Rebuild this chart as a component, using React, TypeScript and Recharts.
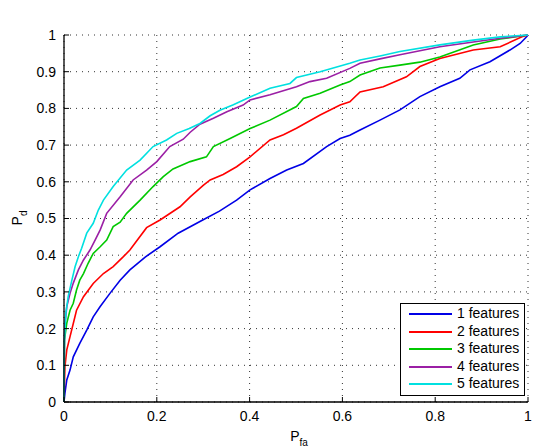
import { LineChart, Line, XAxis, YAxis, CartesianGrid, Legend, Label } from "recharts"

// ROC curves (Pfa -> Pd)
const pfa1 = [0, 0.002, 0.006, 0.013, 0.02, 0.034, 0.049, 0.063, 0.078, 0.099, 0.121, 0.142, 0.175, 0.207, 0.246, 0.299, 0.335, 0.372, 0.401, 0.444, 0.48, 0.516, 0.566, 0.595, 0.616, 0.638, 0.681, 0.724, 0.767, 0.81, 0.853, 0.875, 0.918, 0.961, 0.983, 0.997, 1]
const pd1 = [0, 0.024, 0.06, 0.087, 0.123, 0.16, 0.196, 0.232, 0.26, 0.296, 0.332, 0.36, 0.395, 0.423, 0.46, 0.496, 0.52, 0.55, 0.578, 0.609, 0.632, 0.65, 0.696, 0.718, 0.727, 0.741, 0.768, 0.796, 0.832, 0.859, 0.882, 0.905, 0.927, 0.959, 0.977, 0.995, 1]

const pfa2 = [0, 0.002, 0.006, 0.013, 0.02, 0.027, 0.042, 0.063, 0.085, 0.106, 0.128, 0.142, 0.178, 0.207, 0.25, 0.272, 0.3, 0.315, 0.343, 0.372, 0.401, 0.444, 0.473, 0.501, 0.552, 0.595, 0.616, 0.638, 0.688, 0.738, 0.767, 0.81, 0.882, 0.94, 0.987, 1]
const pd2 = [0, 0.096, 0.142, 0.178, 0.214, 0.25, 0.287, 0.323, 0.35, 0.369, 0.396, 0.414, 0.475, 0.496, 0.532, 0.559, 0.59, 0.605, 0.62, 0.641, 0.668, 0.714, 0.728, 0.746, 0.782, 0.809, 0.818, 0.845, 0.859, 0.886, 0.914, 0.936, 0.959, 0.968, 0.995, 1]

const pfa3 = [0, 0.001, 0.006, 0.013, 0.02, 0.027, 0.034, 0.042, 0.052, 0.063, 0.078, 0.092, 0.106, 0.121, 0.135, 0.164, 0.192, 0.214, 0.235, 0.272, 0.307, 0.322, 0.358, 0.401, 0.444, 0.501, 0.516, 0.552, 0.595, 0.616, 0.638, 0.681, 0.724, 0.767, 0.81, 0.882, 0.94, 1]
const pd3 = [0, 0.169, 0.215, 0.25, 0.269, 0.305, 0.332, 0.35, 0.378, 0.405, 0.423, 0.441, 0.478, 0.49, 0.514, 0.55, 0.587, 0.614, 0.635, 0.655, 0.668, 0.696, 0.718, 0.745, 0.768, 0.805, 0.827, 0.841, 0.864, 0.873, 0.891, 0.91, 0.918, 0.926, 0.94, 0.973, 0.989, 1]

const pfa4 = [0, 0.001, 0.003, 0.006, 0.013, 0.02, 0.031, 0.042, 0.056, 0.067, 0.078, 0.092, 0.121, 0.149, 0.178, 0.2, 0.228, 0.257, 0.272, 0.293, 0.322, 0.351, 0.386, 0.401, 0.444, 0.501, 0.53, 0.566, 0.616, 0.638, 0.681, 0.724, 0.81, 0.882, 0.94, 1]
const pd4 = [0, 0.187, 0.223, 0.26, 0.296, 0.324, 0.36, 0.387, 0.414, 0.441, 0.469, 0.514, 0.559, 0.605, 0.632, 0.655, 0.696, 0.716, 0.735, 0.757, 0.773, 0.791, 0.809, 0.823, 0.837, 0.859, 0.873, 0.882, 0.909, 0.923, 0.935, 0.946, 0.968, 0.981, 0.991, 1]

const pfa5 = [0, 0.001, 0.004, 0.009, 0.017, 0.024, 0.031, 0.038, 0.049, 0.063, 0.074, 0.085, 0.106, 0.135, 0.164, 0.192, 0.221, 0.243, 0.27, 0.293, 0.315, 0.336, 0.365, 0.394, 0.444, 0.487, 0.501, 0.552, 0.616, 0.638, 0.681, 0.724, 0.81, 0.882, 0.94, 1]
const pd5 = [0, 0.17, 0.242, 0.287, 0.332, 0.369, 0.396, 0.419, 0.46, 0.487, 0.523, 0.55, 0.587, 0.632, 0.659, 0.696, 0.714, 0.732, 0.745, 0.759, 0.78, 0.795, 0.81, 0.827, 0.855, 0.868, 0.884, 0.9, 0.923, 0.932, 0.943, 0.955, 0.973, 0.986, 0.995, 1]

const seriesNames = ["1 features", "2 features", "3 features", "4 features", "5 features"]
const xTicks = [0, 0.2, 0.4, 0.6, 0.8, 1]
const yTicks = [0, 0.1, 0.2, 0.3, 0.4, 0.5, 0.6, 0.7, 0.8, 0.9, 1]

const COLORS = ["#0000e6", "#ff0000", "#00c800", "#9b1fa5", "#00e0e0"]
const FONT = "'Liberation Sans', Arial, Helvetica, sans-serif"

const toPoints = (pfa: number[], pd: number[]) => pfa.map((x, i) => ({ x, y: pd[i] }))

const curves = [
  toPoints(pfa1, pd1),
  toPoints(pfa2, pd2),
  toPoints(pfa3, pd3),
  toPoints(pfa4, pd4),
  toPoints(pfa5, pd5),
]

function LegendBox({ payload }: any) {
  return (
    <div
      style={{
        boxSizing: "border-box",
        width: 125,
        height: 93,
        border: "1px solid #000",
        background: "#fff",
        paddingTop: 1.25,
        fontFamily: FONT,
      }}
    >
      {(payload || []).map((p: any) => (
        <div key={p.value} style={{ display: "flex", alignItems: "center", height: 17.5 }}>
          <svg width={52} height={6} style={{ flexShrink: 0 }}>
            <line x1={8} x2={51} y1={3} y2={3} stroke={p.color} strokeWidth={1.8} />
          </svg>
          <span style={{ marginLeft: 4, fontSize: 14, lineHeight: "17.5px", color: "#000" }}>{p.value}</span>
        </div>
      ))}
    </div>
  )
}

export default function App() {
  const tickStyle = { fill: "#000", fontSize: 14, fontFamily: FONT }
  const axisLine = { stroke: "#000", strokeWidth: 1.3 }

  return (
    <div style={{ position: "absolute", left: 0, top: 0, background: "#fff" }}>
      <LineChart width={540} height={447} margin={{ top: 35, right: 12, bottom: 0, left: 0 }}>
        <CartesianGrid stroke="#333" strokeDasharray="1 5" />
        <XAxis
          type="number"
          dataKey="x"
          domain={[0, 1]}
          ticks={xTicks}
          height={45}
          tick={tickStyle}
          tickSize={-5}
          tickMargin={14}
          axisLine={axisLine}
          tickLine={{ stroke: "#000" }}
          tickFormatter={(v) => String(v)}
        >
          <Label
            content={() => (
              <text x={299} y={441} textAnchor="middle" fontFamily={FONT} fontSize={14} fill="#000">
                <tspan>P</tspan>
                <tspan dy={4.5} fontSize={10}>fa</tspan>
              </text>
            )}
          />
        </XAxis>
        <XAxis
          xAxisId="top"
          orientation="top"
          type="number"
          domain={[0, 1]}
          ticks={xTicks}
          height={0}
          tick={false}
          tickSize={-5}
          axisLine={axisLine}
          tickLine={{ stroke: "#000" }}
        >
          <Label
            content={() => (
              <text x={296} y={24} textAnchor="middle" fontFamily={FONT} fontSize={14} fill="#000">
                COST 207 Rural Area
              </text>
            )}
          />
        </XAxis>
        <YAxis
          type="number"
          domain={[0, 1]}
          ticks={yTicks}
          width={64}
          tick={tickStyle}
          tickSize={-5}
          tickMargin={13}
          axisLine={axisLine}
          tickLine={{ stroke: "#000" }}
          tickFormatter={(v) => String(v)}
        >
          <Label
            content={() => (
              <text
                x={22}
                y={218}
                transform="rotate(-90, 22, 218)"
                textAnchor="middle"
                fontFamily={FONT}
                fontSize={14}
                fill="#000"
              >
                <tspan>P</tspan>
                <tspan dy={4.5} fontSize={10}>d</tspan>
              </text>
            )}
          />
        </YAxis>
        <YAxis
          yAxisId="right"
          orientation="right"
          type="number"
          domain={[0, 1]}
          ticks={yTicks}
          width={0}
          tick={false}
          tickSize={-5}
          axisLine={axisLine}
          tickLine={{ stroke: "#000" }}
        />
        {curves.map((data, i) => (
          <Line
            key={seriesNames[i]}
            data={data}
            dataKey="y"
            name={seriesNames[i]}
            type="linear"
            stroke={COLORS[i]}
            strokeWidth={1.6}
            dot={false}
            isAnimationActive={false}
          />
        ))}
        <Legend
          layout="vertical"
          align="center"
          verticalAlign="middle"
          wrapperStyle={{ position: "absolute", left: 400, top: 303, width: 125, height: 93 }}
          content={(props: any) => <LegendBox payload={props.payload} />}
        />
      </LineChart>
    </div>
  )
}
